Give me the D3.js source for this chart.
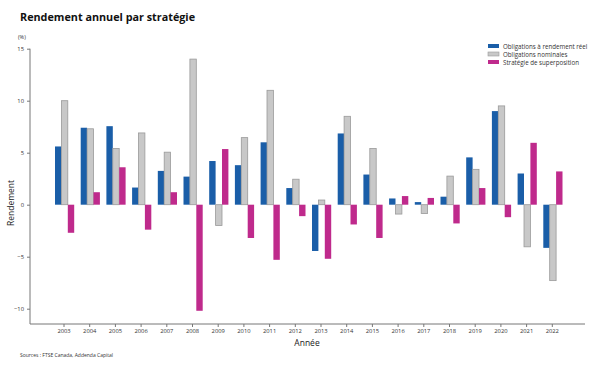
<!DOCTYPE html>
<html><head><meta charset="utf-8">
<script src="https://cdn.jsdelivr.net/npm/d3@7"></script>
<style>body{margin:0;background:#fff;}svg{display:block;font-family:"Open Sans",sans-serif;}</style>
</head><body>
<svg id="c" width="595" height="365"></svg>
<script>
const years = [2003,2004,2005,2006,2007,2008,2009,2010,2011,2012,2013,2014,2015,2016,2017,2018,2019,2020,2021,2022];
const reelles = [5.6,7.4,7.55,1.65,3.25,2.7,4.2,3.8,6.0,1.6,-4.45,6.85,2.9,0.6,0.25,0.77,4.55,9.0,3.0,-4.15];
const nominales = [10.0,7.3,5.4,6.9,5.05,14.0,-2.0,6.45,11.0,2.45,0.45,8.5,5.4,-0.9,-0.85,2.75,3.4,9.5,-4.05,-7.3];
const superposition = [-2.7,1.2,3.6,-2.4,1.2,-10.2,5.35,-3.2,-5.3,-1.1,-5.2,-1.9,-3.2,0.83,0.65,-1.8,1.6,-1.2,5.95,3.2];
const seriesNames = ["Obligations à rendement réel","Obligations nominales","Stratégie de superposition"];
const colors = ["#1a5ea8","#c8c8c8","#bf2a8c"];
const strokes = ["none","#9a9a9a","none"];
const yTicks = [-10,-5,0,5,10,15];

const svg = d3.select("#c");
const axisColor = "#777";
const x = d3.scaleBand().domain(years).range([51.15, 565.15]).padding(0);
const y = d3.scaleLinear().domain([-10,15]).range([308.7, 48.7]);
const bw = 6.4;
const series = [reelles, nominales, superposition];

series.forEach((vals, si) => {
  svg.append("g").selectAll("rect").data(years).join("rect")
    .attr("x", (d) => x(d) + x.bandwidth()/2 + (si-1)*bw - bw/2 + 0.6)
    .attr("width", bw)
    .attr("y", (d,i) => y(Math.max(0, vals[i])))
    .attr("height", (d,i) => Math.abs(y(vals[i]) - y(0)))
    .attr("fill", colors[si])
    .attr("stroke", strokes[si])
    .attr("stroke-width", 0.8);
});

// Y axis
const ya = svg.append("g").attr("transform","translate(30,0)")
  .call(d3.axisLeft(y).tickValues(yTicks).tickSize(3).tickPadding(3));
ya.select(".domain").attr("d", `M0,${y(15)}V324`).attr("stroke", axisColor);
ya.selectAll(".tick line").attr("stroke", axisColor);
ya.selectAll("text").attr("font-size", 5.8).attr("fill", "#333").attr("font-family","Open Sans, sans-serif");

// X axis
const xa = svg.append("g").attr("transform","translate(0,324)")
  .call(d3.axisBottom(x).tickSize(3).tickPadding(2));
xa.select(".domain").attr("d", "M30,0H585").attr("stroke", axisColor);
xa.selectAll(".tick line").attr("stroke", axisColor);
xa.selectAll("text").attr("font-size", 5.8).attr("fill", "#333").attr("font-family","Open Sans, sans-serif");

// Titles
svg.append("text").attr("x", 20).attr("y", 21).attr("font-size", 10.8).attr("font-weight", "bold")
  .attr("fill", "#111").text("Rendement annuel par stratégie");
svg.append("text").attr("x", 18).attr("y", 39).attr("font-size", 5.5).attr("fill", "#333").text("(%)");
svg.append("text").attr("transform", "translate(14,203) rotate(-90)").attr("text-anchor","middle")
  .attr("font-size", 8.5).attr("fill", "#222").text("Rendement");
svg.append("text").attr("x", 307).attr("y", 346).attr("text-anchor","middle")
  .attr("font-size", 8.5).attr("fill", "#222").text("Année");
svg.append("text").attr("x", 20).attr("y", 357).attr("font-size", 5).attr("fill", "#333")
  .text("Sources : FTSE Canada, Addenda Capital");

// Legend
const lg = svg.append("g").attr("transform","translate(488,44)");
seriesNames.forEach((n, i) => {
  lg.append("rect").attr("x", 0).attr("y", i*8).attr("width", 11).attr("height", 4)
    .attr("fill", colors[i]).attr("stroke", strokes[i]).attr("stroke-width", 0.6);
  lg.append("text").attr("x", 15).attr("y", i*8 + 4.5).attr("font-size", 6.2).attr("fill", "#333").text(n);
});
</script>
</body></html>
